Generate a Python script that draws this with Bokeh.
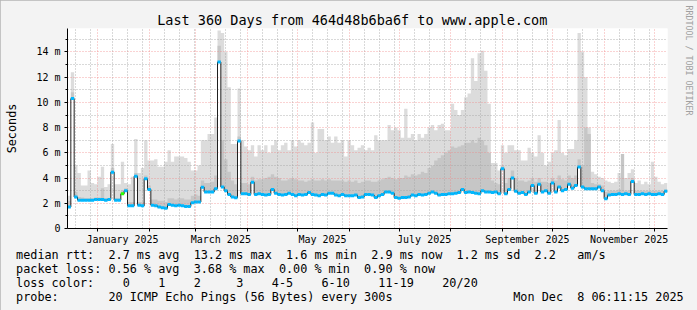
import datetime as dt
from bokeh.plotting import figure
from bokeh.models import Range1d, FixedTicker, Title
from bokeh.embed import file_html
from bokeh.resources import INLINE

# ---------------- data ----------------
START = dt.datetime(2024, 12, 14, 0, 0, 0, tzinfo=dt.timezone.utc)
STEP_DAYS = 2   # one value per 2 days, 180 values = 360 days

# median round trip time (ms)
median_ms = [
    1.7, 10.3, 2.5, 2.25, 2.25, 2.25, 2.25, 2.25, 2.3, 2.3,
    2.3, 2.25, 2.3, 4.47, 2.25, 2.25, 2.75, 3.0, 1.8, 1.8,
    4.15, 1.85, 1.8, 3.94, 3.1, 1.85, 1.8, 1.7, 1.65, 1.6,
    1.9, 1.85, 1.8, 1.85, 1.8, 1.75, 1.75, 2.05, 2.1, 2.1,
    3.28, 2.9, 2.9, 2.9, 3.15, 13.2, 3.3, 3.0, 2.7, 2.5,
    2.44, 6.93, 2.75, 2.75, 2.7, 3.67, 2.7, 2.75, 2.7, 2.65,
    2.7, 3.1, 2.8, 2.7, 2.65, 2.7, 2.8, 2.7, 2.6, 2.7,
    2.65, 2.7, 2.85, 2.7, 2.65, 2.6, 2.7, 2.65, 2.8, 2.8,
    2.65, 2.6, 2.7, 2.6, 2.6, 2.6, 2.65, 2.45, 2.5, 2.7,
    2.7, 2.65, 2.45, 2.6, 2.7, 2.9, 2.9, 2.8, 2.45, 2.4,
    2.45, 2.45, 2.5, 2.65, 2.6, 2.7, 2.65, 2.7, 2.8, 2.9,
    2.8, 2.65, 2.7, 2.7, 2.75, 2.75, 2.8, 2.85, 3.1, 2.85,
    2.9, 2.85, 2.8, 2.75, 3.0, 2.9, 2.9, 2.85, 2.9, 2.75,
    4.74, 2.75, 3.1, 4.0, 2.95, 2.8, 2.85, 2.7, 2.9, 3.4,
    2.8, 3.5, 2.9, 3.0, 2.8, 3.6, 2.9, 3.3, 3.0, 3.1,
    3.5, 3.2, 3.4, 4.87, 3.3, 3.15, 3.15, 3.15, 3.15, 3.3,
    3.0, 2.36, 2.65, 2.7, 2.7, 2.75, 2.7, 2.75, 2.7, 3.73,
    2.7, 2.7, 2.75, 2.7, 2.75, 2.7, 2.7, 2.75, 2.7, 2.96,
]

# top of the light smoke (slowest pings, ms)
smoke_max_ms = [
    2.6, 12.4, 5.0, 4.4, 3.4, 3.4, 4.6, 3.6, 3.5, 4.1,
    4.9, 3.3, 3.5, 6.7, 3.5, 3.5, 5.3, 3.6, 3.5, 4.1,
    7.1, 4.4, 4.8, 7.0, 5.4, 5.4, 5.5, 4.9, 4.9, 5.3,
    6.2, 5.3, 5.7, 5.7, 5.7, 5.6, 5.3, 4.6, 4.6, 5.0,
    7.0, 7.0, 7.5, 7.5, 8.8, 15.7, 15.5, 14.0, 11.2, 6.7,
    6.7, 11.1, 7.0, 6.5, 6.2, 6.6, 5.7, 6.6, 6.2, 6.6,
    6.0, 6.6, 7.0, 6.2, 6.6, 6.8, 6.2, 7.0, 6.5, 7.0,
    6.8, 6.6, 6.8, 8.4, 6.0, 7.9, 7.9, 7.0, 7.3, 6.8,
    7.3, 6.8, 7.0, 5.7, 7.0, 6.6, 6.2, 6.4, 6.6, 6.2,
    6.4, 6.2, 7.4, 7.0, 7.0, 7.0, 8.2, 7.8, 8.0, 7.8,
    7.2, 9.5, 7.2, 7.5, 7.0, 7.5, 7.2, 7.5, 8.0, 8.2,
    7.8, 8.2, 8.3, 7.8, 7.8, 9.9, 9.4, 9.0, 9.4, 10.4,
    10.7, 13.5, 11.7, 13.9, 14.1, 12.5, 9.9, 5.2, 5.2, 4.6,
    6.6, 6.0, 6.6, 6.6, 6.2, 6.2, 5.4, 5.4, 6.4, 6.0,
    5.7, 7.4, 6.0, 5.0, 5.3, 6.0, 6.2, 8.6, 6.0, 5.8,
    6.3, 6.3, 7.0, 15.5, 14.0, 12.0, 8.0, 4.5, 4.3, 4.1,
    4.0, 3.8, 3.7, 3.6, 3.7, 4.4, 4.0, 4.0, 4.4, 4.7,
    3.6, 3.8, 3.5, 3.7, 3.5, 5.3, 4.1, 3.7, 3.5, 3.6,
]

# top of the denser (darker) smoke (ms)
smoke_mid_ms = [
    2.2, 10.8, 2.9, 2.5, 2.45, 2.4, 2.4, 2.4, 2.45, 2.45,
    3.2, 2.4, 2.4, 4.8, 2.4, 2.4, 3.0, 3.2, 2.1, 2.1,
    4.4, 2.1, 2.1, 4.2, 3.4, 2.3, 2.3, 2.2, 2.2, 2.1,
    2.4, 2.4, 2.3, 2.4, 2.4, 2.3, 2.3, 2.6, 2.7, 2.6,
    3.8, 3.6, 3.6, 3.7, 4.2, 14.5, 7.0, 5.5, 4.5, 3.8,
    3.5, 7.3, 3.6, 3.6, 3.5, 4.1, 3.8, 3.9, 3.9, 4.0,
    4.1, 4.3, 4.1, 4.0, 3.8, 3.8, 3.9, 4.0, 3.9, 3.8,
    3.8, 3.7, 3.8, 3.9, 3.8, 3.8, 3.9, 3.8, 3.9, 3.8,
    3.8, 3.8, 3.8, 3.7, 3.8, 3.7, 3.8, 3.6, 3.7, 3.8,
    3.8, 3.7, 3.7, 3.8, 3.9, 4.0, 4.1, 4.0, 3.9, 4.0,
    4.0, 4.2, 4.1, 4.3, 4.2, 4.3, 4.5, 4.4, 4.8, 5.0,
    5.4, 5.6, 5.8, 6.0, 6.2, 6.5, 6.4, 6.5, 6.6, 6.8,
    6.8, 7.0, 6.8, 7.2, 7.0, 6.6, 6.0, 3.8, 3.6, 3.5,
    5.0, 3.6, 4.0, 4.6, 4.0, 3.8, 3.8, 3.7, 3.8, 4.0,
    3.7, 4.0, 3.7, 3.7, 3.6, 4.0, 3.8, 4.2, 3.9, 3.8,
    4.2, 4.0, 4.2, 5.5, 5.0, 8.0, 7.5, 3.6, 3.5, 3.5,
    3.4, 2.9, 3.0, 3.0, 3.0, 3.1, 5.9, 3.0, 3.0, 4.0,
    3.0, 3.0, 3.0, 3.0, 3.0, 3.0, 3.0, 3.0, 3.0, 3.1,
]

# lost pings (of 20) per step -> median colour
loss_count = [
    1, 1, 1, 1, 1, 1, 1, 1, 1, 1, 1, 1, 1, 1, 1, 1, 0, 1, 1, 1,
    1, 1, 1, 1, 1, 1, 1, 1, 1, 1, 1, 1, 1, 1, 1, 1, 1, 1, 1, 1,
    1, 1, 1, 1, 1, 1, 1, 1, 1, 1, 1, 1, 1, 1, 1, 1, 1, 1, 1, 1,
    1, 1, 1, 1, 1, 1, 1, 1, 1, 1, 1, 1, 1, 1, 1, 1, 1, 1, 1, 1,
    1, 1, 1, 1, 1, 1, 1, 1, 1, 1, 1, 1, 1, 1, 1, 1, 1, 1, 1, 1,
    1, 1, 1, 1, 1, 1, 1, 1, 1, 1, 1, 1, 1, 1, 1, 1, 1, 1, 1, 1,
    1, 1, 1, 1, 1, 1, 1, 1, 1, 1, 1, 1, 1, 1, 1, 1, 1, 1, 1, 1,
    1, 1, 1, 1, 1, 1, 1, 1, 1, 1, 1, 1, 1, 1, 1, 1, 1, 1, 1, 1,
    1, 1, 1, 1, 1, 1, 1, 1, 1, 1, 1, 1, 1, 1, 1, 1, 1, 1, 1, 1,
]

loss_labels = ["0", "1", "2", "3", "4-5", "6-10", "11-19", "20/20"]
loss_colors = ["#26ff00", "#00b8ff", "#0059ff", "#7e00ff", "#ff00ff", "#ff5500", "#ff0000", "#a10000"]
loss_label_cols = [15, 20, 25, 31, 36, 43, 51, 60]   # text column of each legend label

y_ticks = [0, 2, 4, 6, 8, 10, 12, 14]
y_tick_labels = ["0", "2 m", "4 m", "6 m", "8 m", "10 m", "12 m", "14 m"]
x_label_months = [(2025, 1), (2025, 3), (2025, 5), (2025, 7), (2025, 9), (2025, 11)]
x_label_texts = ["January 2025", "March 2025", "May 2025", "July 2025", "September 2025", "November 2025"]

title_text = "Last 360 Days from 464d48b6ba6f to www.apple.com"
stats_lines = [
    "median rtt:  2.7 ms avg  13.2 ms max  1.6 ms min  2.9 ms now  1.2 ms sd  2.2   am/s",
    "packet loss: 0.56 % avg  3.68 % max  0.00 % min  0.90 % now",
    "loss color:",
    "probe:       20 ICMP Echo Pings (56 Bytes) every 300s",
]
date_text = "Mon Dec  8 06:11:15 2025"
unit_text = "Seconds"
watermark_text = "RRDTOOL / TOBI OETIKER"

# ---------------- geometry / style ----------------
FONT = "DejaVu Sans Mono"
W, H = 697, 310
FL, FR, FT, FB = 67, 667, 28, 228      # frame edges in pixels
YMAX = 15.86
LX = 15.6                              # legend text left edge


def ms(d):
    return d.timestamp() * 1000.0


n = len(median_ms)
t0 = ms(START)
step = STEP_DAYS * 86400000.0
t1 = t0 + n * step
edges = [t0 + i * step for i in range(n + 1)]
left = edges[:-1]
right = edges[1:]


def keep_spaces(s):
    out, run = [], 0
    for ch in s + "\0":
        if ch == " ":
            run += 1
            continue
        if run:
            out.append("\u00a0" * (run - 1) + " " if run > 1 else " ")
            run = 0
        if ch != "\0":
            out.append(ch)
    return "".join(out)


p = figure(width=W, height=H, output_backend="svg", toolbar_location=None,
           x_range=Range1d(t0, t1), y_range=Range1d(0, YMAX),
           min_border_left=FL, min_border_right=W - FR,
           min_border_top=FT, min_border_bottom=H - FB,
           title=None, background_fill_color="white",
           border_fill_color="#f3f3f3", outline_line_color=None)
p.styles = {"outline": "2px solid #b4b4b4", "outline-offset": "-2px"}

# smoke
p.varea_step(x=edges, y1=median_ms + [median_ms[-1]], y2=smoke_max_ms + [smoke_max_ms[-1]],
             step_mode="after", fill_color="#dcdcdc", level="image")
p.varea_step(x=edges, y1=median_ms + [median_ms[-1]], y2=smoke_mid_ms + [smoke_mid_ms[-1]],
             step_mode="after", fill_color="#c6c6c6", level="image")

# median line + loss colour band
p.step(x=edges, y=median_ms + [median_ms[-1]], mode="after", line_color="#202020", line_width=1)
band_colors = [loss_colors[c] for c in loss_count]
p.segment(x0=left, x1=right, y0=median_ms, y1=median_ms, line_color=band_colors, line_width=3)

# axes & grid
month_starts = [ms(dt.datetime(2025, m, 1, tzinfo=dt.timezone.utc)) for m in range(1, 13)]
minor_days = []
for (yy, mm) in [(2024, 12)] + [(2025, m) for m in range(1, 13)]:
    for d in (10, 19, 28):
        v = ms(dt.datetime(yy, mm, d, tzinfo=dt.timezone.utc))
        if t0 < v < t1:
            minor_days.append(v)
label_ticks = [ms(dt.datetime(yy, mm, 16, tzinfo=dt.timezone.utc)) for (yy, mm) in x_label_months]

p.xaxis.ticker = FixedTicker(ticks=label_ticks, minor_ticks=month_starts)
p.xaxis.major_label_overrides = {t: s for t, s in zip(label_ticks, x_label_texts)}
p.xaxis.major_tick_line_color = None
p.xaxis.major_tick_out = 3
p.xaxis.minor_tick_out = 3
p.xaxis.minor_tick_in = 0
p.xaxis.minor_tick_line_color = "black"
p.xaxis.major_label_standoff = 2

p.yaxis.ticker = FixedTicker(ticks=y_ticks, minor_ticks=[1, 3, 5, 7, 9, 11, 13, 15])
p.yaxis.major_label_overrides = {t: s for t, s in zip(y_ticks, y_tick_labels)}
p.yaxis.major_tick_out = 3
p.yaxis.major_tick_in = 0
p.yaxis.minor_tick_out = 2
p.yaxis.minor_tick_in = 0
p.yaxis.major_label_standoff = 4
p.yaxis.axis_label = unit_text
p.yaxis.axis_label_text_font = FONT
p.yaxis.axis_label_text_font_size = "11.8px"
p.yaxis.axis_label_text_font_style = "normal"
p.yaxis.axis_label_text_color = "black"
p.yaxis.axis_label_standoff = 14

for ax in (p.xaxis[0], p.yaxis[0]):
    ax.axis_line_color = "black"
    ax.major_label_text_font = FONT
    ax.major_label_text_font_size = "10px"
    ax.major_label_text_color = "black"

xg = p.xgrid[0]
xg.ticker = FixedTicker(ticks=month_starts, minor_ticks=minor_days)
yg = p.ygrid[0]
for g in (xg, yg):
    g.grid_line_color = "#f08080"
    g.grid_line_alpha = 0.7
    g.grid_line_dash = "1 2"
    g.minor_grid_line_color = "#a0a0a0"
    g.minor_grid_line_alpha = 0.8
    g.minor_grid_line_dash = "1 2"
    g.level = "underlay"

# ---------------- texts in the side panels ----------------
p.add_layout(Title(text=title_text, text_font=FONT, text_font_size="13.5px", text_font_style="normal",
                   text_color="black", align="left", offset=156.7 - FL, standoff=2), "above")

row3 = stats_lines[2]
for lbl, col in zip(loss_labels, loss_label_cols):
    row3 = row3 + " " * (col - len(row3)) + lbl
row4 = stats_lines[3] + " " * (70 - len(stats_lines[3])) + date_text
legend_text = "\n".join(keep_spaces(s) for s in [stats_lines[0], stats_lines[1], row3, row4])
p.add_layout(Title(text=legend_text, text_font=FONT, text_font_size="11.8px", text_font_style="normal",
                   text_color="black", align="left", offset=LX - FL, vertical_align="top",
                   standoff=0), "below")

p.add_layout(Title(text=" ", text_font=FONT, text_font_size="10px", standoff=1), "right")
p.add_layout(Title(text=watermark_text, text_font=FONT, text_font_size="8.3px", text_font_style="normal",
                   text_color="#a0a0a0", align="left", offset=5 - FT, vertical_align="top", standoff=0), "right")

open("out.html", "w").write(file_html(p, INLINE))
